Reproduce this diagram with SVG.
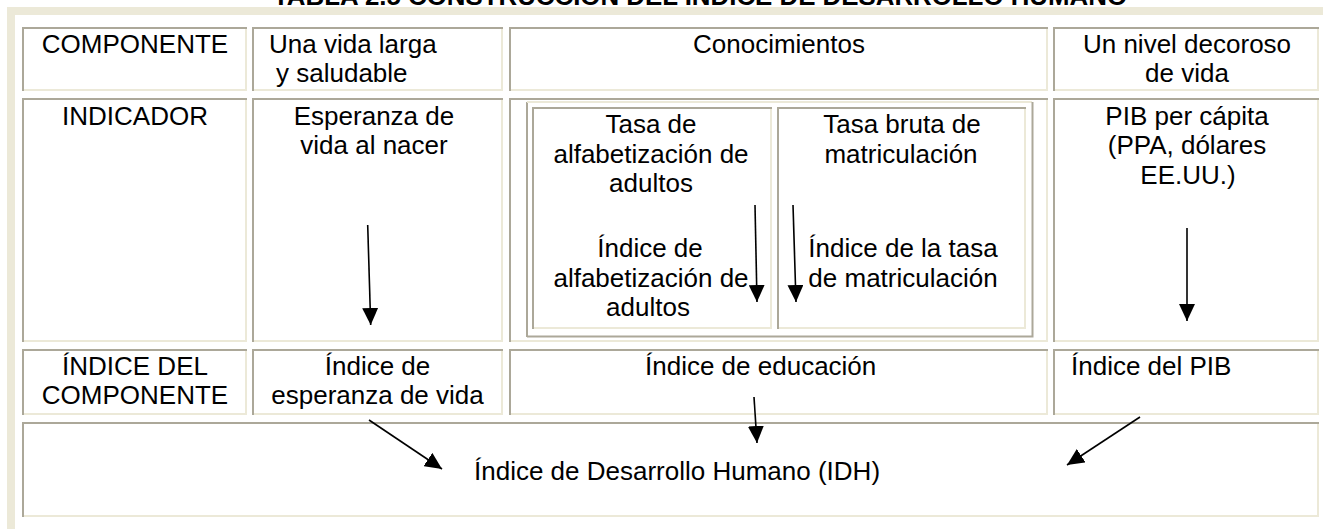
<svg xmlns="http://www.w3.org/2000/svg" width="1323" height="529" viewBox="0 0 1323 529">
<style>
  text { font-family: "Liberation Sans", Arial, sans-serif; font-size: 26px; fill: #000; }
  .title { font-weight: bold; }
  .c { text-anchor: middle; }
  .dk { fill: none; stroke: #ACA899; stroke-width: 2; }
  .lt { fill: none; stroke: #ECE9D8; stroke-width: 2; }
  .cell { fill: #FFFFFF; }
  .frame { fill: #ECE9D8; }
  .arr { stroke: #000; stroke-width: 1.6; fill: none; marker-end: url(#ah); }
</style>
<defs>
  <marker id="ah" markerUnits="userSpaceOnUse" markerWidth="18" markerHeight="16" refX="17" refY="8" orient="auto">
    <path d="M0,0 L17,8 L0,16 z" fill="#000"/>
  </marker>
</defs>
<rect x="0" y="0" width="1323" height="529" fill="#FFFFFF"/>
<g id="title">
  <text class="title c" x="700" y="5" textLength="854" lengthAdjust="spacingAndGlyphs">TABLA 2.5 CONSTRUCCIÓN DEL ÍNDICE DE DESARROLLO HUMANO</text>
</g>
<g id="outer-frame">
  <rect class="frame" x="7" y="7" width="1316" height="8"/>
  <rect class="frame" x="7" y="7" width="8" height="522"/>
</g>

<!-- Row 1 -->
<g id="r1c1">
  <rect class="cell" x="22" y="27" width="225" height="64"/>
  <path class="dk" d="M23,91 V28 H247"/><path class="lt" d="M24,90 H246 V29"/>
  <text class="c" x="135" y="52.5">COMPONENTE</text>
</g>
<g id="r1c2">
  <rect class="cell" x="252" y="27" width="251" height="64"/>
  <path class="dk" d="M253,91 V28 H503"/><path class="lt" d="M254,90 H502 V29"/>
  <text x="269" y="52.5">Una vida larga</text>
  <text x="276" y="82">y saludable</text>
</g>
<g id="r1c3">
  <rect class="cell" x="509" y="27" width="539" height="64"/>
  <path class="dk" d="M510,91 V28 H1048"/><path class="lt" d="M511,90 H1047 V29"/>
  <text class="c" x="779" y="52.5">Conocimientos</text>
</g>
<g id="r1c4">
  <rect class="cell" x="1053" y="27" width="266" height="64"/>
  <path class="dk" d="M1054,91 V28 H1319"/><path class="lt" d="M1055,90 H1318 V29"/>
  <text class="c" x="1187" y="52.5">Un nivel decoroso</text>
  <text class="c" x="1187" y="82">de vida</text>
</g>

<!-- Row 2 -->
<g id="r2c1">
  <rect class="cell" x="22" y="98" width="225" height="244"/>
  <path class="dk" d="M23,342 V99 H247"/><path class="lt" d="M24,341 H246 V100"/>
  <text class="c" x="135" y="124.5">INDICADOR</text>
</g>
<g id="r2c2">
  <rect class="cell" x="252" y="98" width="251" height="244"/>
  <path class="dk" d="M253,342 V99 H503"/><path class="lt" d="M254,341 H502 V100"/>
  <text class="c" x="374" y="124.5">Esperanza de</text>
  <text class="c" x="374" y="154">vida al nacer</text>
</g>
<g id="r2c3">
  <rect class="cell" x="509" y="98" width="539" height="244"/>
  <path class="dk" d="M510,342 V99 H1048"/><path class="lt" d="M511,341 H1047 V100"/>
  <path class="dk" d="M527,337 V102"/><path class="lt" d="M527,102 H1032"/>
  <path class="dk" d="M527,336.5 H1032.5 V102"/>
</g>
<g id="nested-a">
  <rect class="cell" x="532" y="107" width="240" height="222"/>
  <path class="dk" d="M533,329 V108 H772"/><path class="lt" d="M534,328 H771 V109"/>
  <text class="c" x="651" y="133">Tasa de</text>
  <text class="c" x="651" y="162.5">alfabetización de</text>
  <text class="c" x="651" y="192">adultos</text>
  <text class="c" x="650" y="257">Índice de</text>
  <text class="c" x="651" y="287">alfabetización de</text>
  <text class="c" x="648" y="316">adultos</text>
</g>
<g id="nested-b">
  <rect class="cell" x="777" y="107" width="249" height="222"/>
  <path class="dk" d="M778,329 V108 H1026"/><path class="lt" d="M779,328 H1025 V109"/>
  <text class="c" x="902" y="133">Tasa bruta de</text>
  <text class="c" x="901" y="162.5">matriculación</text>
  <text class="c" x="903" y="257">Índice de la tasa</text>
  <text class="c" x="903" y="287">de matriculación</text>
</g>
<g id="r2c4">
  <rect class="cell" x="1053" y="98" width="266" height="244"/>
  <path class="dk" d="M1054,342 V99 H1319"/><path class="lt" d="M1055,341 H1318 V100"/>
  <text class="c" x="1187" y="124.5">PIB per cápita</text>
  <text class="c" x="1187" y="154">(PPA, dólares</text>
  <text class="c" x="1188" y="183.5">EE.UU.)</text>
</g>

<!-- Row 3 -->
<g id="r3c1">
  <rect class="cell" x="22" y="349" width="225" height="66"/>
  <path class="dk" d="M23,415 V350 H247"/><path class="lt" d="M24,414 H246 V351"/>
  <text class="c" x="135" y="374.5">ÍNDICE DEL</text>
  <text class="c" x="135" y="404">COMPONENTE</text>
</g>
<g id="r3c2">
  <rect class="cell" x="252" y="349" width="251" height="66"/>
  <path class="dk" d="M253,415 V350 H503"/><path class="lt" d="M254,414 H502 V351"/>
  <text class="c" x="377.5" y="374.5">Índice de</text>
  <text class="c" x="377.5" y="404">esperanza de vida</text>
</g>
<g id="r3c3">
  <rect class="cell" x="509" y="349" width="539" height="66"/>
  <path class="dk" d="M510,415 V350 H1048"/><path class="lt" d="M511,414 H1047 V351"/>
  <text x="645" y="374.5">Índice de educación</text>
</g>
<g id="r3c4">
  <rect class="cell" x="1053" y="349" width="266" height="66"/>
  <path class="dk" d="M1054,415 V350 H1319"/><path class="lt" d="M1055,414 H1318 V351"/>
  <text x="1071" y="374.5">Índice del PIB</text>
</g>

<!-- Row 4 -->
<g id="r4">
  <rect class="cell" x="22" y="422" width="1297" height="95"/>
  <path class="dk" d="M23,517 V423 H1319"/><path class="lt" d="M24,516 H1318 V424"/>
  <text x="474" y="480">Índice de Desarrollo Humano (IDH)</text>
</g>

<g id="connectors">
  <line class="arr" x1="367.7" y1="225" x2="370.7" y2="325"/>
  <line class="arr" x1="755" y1="205" x2="757" y2="302"/>
  <line class="arr" x1="793" y1="205" x2="796" y2="302"/>
  <line class="arr" x1="1187" y1="228" x2="1187" y2="321"/>
  <line class="arr" x1="369" y1="420" x2="442" y2="469"/>
  <line class="arr" x1="754" y1="397" x2="757" y2="443"/>
  <line class="arr" x1="1140" y1="417" x2="1067" y2="465"/>
</g>
</svg>
